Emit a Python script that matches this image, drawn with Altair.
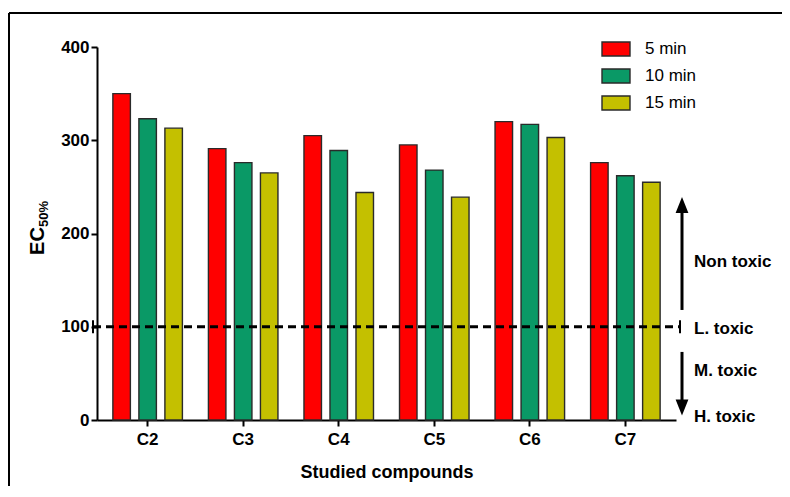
import altair as alt
import pandas as pd

compounds = ["C2", "C3", "C4", "C5", "C6", "C7"]
times = ["5 min", "10 min", "15 min"]
ec50_5min = [350, 291, 305, 295, 320, 276]
ec50_10min = [323, 276, 289, 268, 317, 262]
ec50_15min = [313, 265, 244, 239, 303, 255]
colors = ["#FF0000", "#0A9966", "#C4C000"]

zone_labels = ["Non toxic", "L. toxic", "M. toxic", "H. toxic"]
zone_pos = [169.4, 97.6, 52.9, 3.2]
threshold = 100

rows = []
for t, vals in zip(times, [ec50_5min, ec50_10min, ec50_15min]):
    for c, v in zip(compounds, vals):
        rows.append({"compound": c, "time": t, "ec50": v})
df = pd.DataFrame(rows)

FONT = "Liberation Sans"
W, H = 579, 373
yscale = alt.Scale(domain=[0, 400], nice=False)
one = alt.Data(values=[{}])

bars = alt.Chart(df).mark_bar(stroke="#2a2a2a", strokeWidth=1.4).encode(
    x=alt.X("compound:N", sort=compounds,
            scale=alt.Scale(paddingInner=0, paddingOuter=0.03),
            axis=alt.Axis(title="Studied compounds", labelAngle=0, labelFont=FONT,
                          labelFontSize=17, labelFontWeight="bold", labelColor="black",
                          labelPadding=5, tickSize=6, tickWidth=2, tickColor="black",
                          domainColor="black", domainWidth=2, titleFont=FONT,
                          titleFontSize=18, titleFontWeight="bold", titleColor="black",
                          titlePadding=16)),
    xOffset=alt.XOffset("time:N", sort=times,
                        scale=alt.Scale(paddingInner=0.327, paddingOuter=0.5)),
    y=alt.Y("ec50:Q", scale=yscale,
            axis=alt.Axis(title=None, values=[0, 100, 200, 300, 400], grid=False,
                          labelFont=FONT, labelFontSize=17, labelFontWeight="bold",
                          labelColor="black", labelPadding=2, tickSize=6, tickWidth=2,
                          tickColor="black", domainColor="black", domainWidth=2)),
    color=alt.Color("time:N", sort=times,
                    scale=alt.Scale(domain=times, range=colors),
                    legend=alt.Legend(title=None, orient="none", legendX=504, legendY=-13,
                                      symbolType="M-1,-0.5H1V0.5H-1Z", symbolSize=784,
                                      symbolStrokeColor="#2a2a2a", symbolStrokeWidth=1.4,
                                      symbolOpacity=1, labelFontSize=17, labelFont=FONT,
                                      labelColor="black", labelOffset=14, rowPadding=2,
                                      padding=0)),
)

dash = alt.Chart(one).mark_rule(strokeDash=[8, 5], strokeWidth=3, color="black").encode(
    x=alt.value(-4), x2=alt.value(583), y=alt.datum(threshold, scale=yscale))
cap_l = alt.Chart(one).mark_rule(strokeWidth=2, color="black").encode(
    x=alt.value(-4), y=alt.datum(threshold + 7), y2=alt.datum(threshold - 7))
cap_r = alt.Chart(one).mark_rule(strokeWidth=2, color="black").encode(
    x=alt.value(583), y=alt.datum(threshold + 7), y2=alt.datum(threshold - 7))

up_shaft = alt.Chart(one).mark_rule(strokeWidth=3, color="black").encode(
    x=alt.value(585), y=alt.datum(223), y2=alt.datum(118))
up_head = alt.Chart(one).mark_point(shape="M0,-1L0.8,1L-0.8,1Z", size=256, filled=True,
                                    color="black", opacity=1, strokeWidth=0).encode(
    x=alt.value(585), y=alt.datum(230.6))
dn_shaft = alt.Chart(one).mark_rule(strokeWidth=3, color="black").encode(
    x=alt.value(585), y=alt.datum(73), y2=alt.datum(20))
dn_head = alt.Chart(one).mark_point(shape="M0,1L0.8,-1L-0.8,-1Z", size=256, filled=True,
                                    color="black", opacity=1, strokeWidth=0).encode(
    x=alt.value(585), y=alt.datum(13.4))

zone_texts = [
    alt.Chart(one).mark_text(text=lab, align="left", baseline="middle", font=FONT,
                             fontSize=17, fontWeight="bold", color="black").encode(
        x=alt.value(597), y=alt.datum(p))
    for lab, p in zip(zone_labels, zone_pos)
]

ytitle = alt.Chart(one).mark_text(text="EC", angle=270, align="center", baseline="middle",
                                  font=FONT, fontSize=20, fontWeight="bold",
                                  color="black").encode(x=alt.value(-59), y=alt.value(194))
ysub = alt.Chart(one).mark_text(text="50%", angle=270, align="center", baseline="middle",
                                font=FONT, fontSize=13, fontWeight="bold",
                                color="black").encode(x=alt.value(-53), y=alt.value(167))

frame_top = alt.Chart(one).mark_rule(strokeWidth=2, color="black").encode(
    x=alt.value(-88), x2=alt.value(686), y=alt.value(-34))
frame_left = alt.Chart(one).mark_rule(strokeWidth=2, color="black").encode(
    x=alt.value(-88), y=alt.value(-34), y2=alt.value(445))

chart = alt.layer(bars, dash, cap_l, cap_r, up_shaft, up_head, dn_shaft, dn_head,
                  *zone_texts, ytitle, ysub, frame_top, frame_left).properties(
    width=W, height=H,
    autosize=alt.AutoSizeParams(type="none"),
    padding={"left": 89, "top": 39, "right": 106, "bottom": 66},
).configure_view(strokeWidth=0)

chart.save("out.html", embed_options={"renderer": "svg", "actions": False})
